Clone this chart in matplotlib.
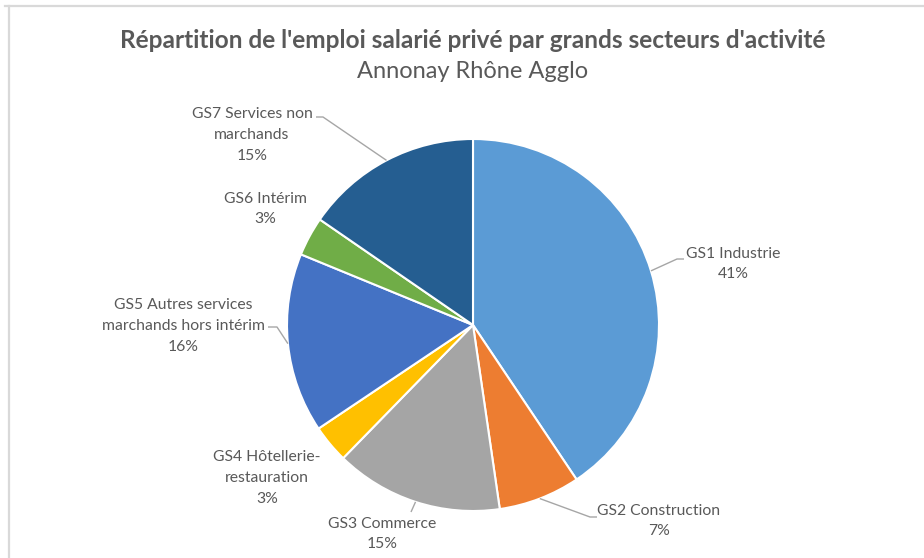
import matplotlib.pyplot as plt
import numpy as np

# data
sectors = ['GS1 Industrie', 'GS2 Construction', 'GS3 Commerce',
           'GS4 Hôtellerie-\nrestauration', 'GS5 Autres services\nmarchands hors intérim',
           'GS6 Intérim', 'GS7 Services non\nmarchands']
shares = [40.6, 7.1, 14.6, 3.3, 15.6, 3.4, 15.4]
colors = ['#5B9BD5', '#ED7D31', '#A5A5A5', '#FFC000', '#4472C4', '#70AD47', '#255E91']

title = "Répartition de l'emploi salarié privé par grands secteurs d'activité"
subtitle = 'Annonay Rhône Agglo'

W, H = 924, 558
CX, CY, R = 473, 325, 186   # pie centre / radius in pixels (y from top)

# label placement in pixels: text centre, leader elbow, leader end
label_pos = [
    ((733, 264), [(677, 259), (684, 259)]),
    ((659, 521), [(590, 517), (597, 517)]),
    ((382, 534), [(411, 512)]),
    ((267, 478), None),
    ((183, 326), [(277, 327), (268, 327)]),
    ((265, 209), None),
    ((252, 135), [(323, 117), (316, 117)]),
]

TEXT = '#595959'
FONT = 'Lato'


def px(x, y):
    return x, H - y


fig = plt.figure(figsize=(W / 100, H / 100), dpi=100)
ax = fig.add_axes([0, 0, 1, 1])

wedges, _ = ax.pie(shares, colors=colors, startangle=90, counterclock=False,
                   center=px(CX, CY), radius=R, frame=True,
                   wedgeprops=dict(edgecolor='white', linewidth=1.5))

for w, name, val, (tpos, leader) in zip(wedges, sectors, shares, label_pos):
    ax.text(*px(*tpos), f'{name}\n{val:.0f}%', ha='center', va='center',
            fontsize=11.3, color=TEXT, family=FONT, linespacing=1.62)
    if leader:
        mid = np.deg2rad((w.theta1 + w.theta2) / 2)
        pts = [(CX + R * np.cos(mid), CY - R * np.sin(mid))] + leader
        xs, ys = zip(*[px(*p) for p in pts])
        ax.plot(xs, ys, color='#A6A6A6', lw=1.0, solid_capstyle='butt')

ax.text(*px(473, 40), title, ha='center', va='center', fontsize=17.6,
        fontweight='bold', color=TEXT, family=FONT)
ax.text(*px(473, 71), subtitle, ha='center', va='center', fontsize=17,
        color=TEXT, family=FONT)

# light frame on top and left edges
ax.plot(*zip(px(5, 6), px(W, 6)), color='#D9D9D9', lw=1.6)
ax.plot(*zip(px(9, 6), px(9, H)), color='#D9D9D9', lw=1.6)

ax.set_xlim(0, W)
ax.set_ylim(0, H)
ax.set_aspect('equal')
ax.axis('off')

fig.savefig('out.png', dpi=100)
